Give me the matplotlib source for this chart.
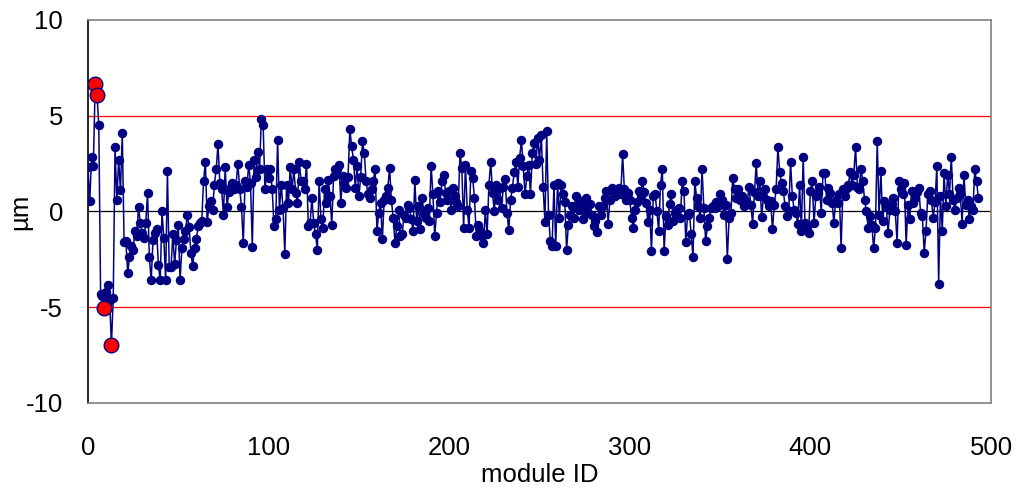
import numpy as np
import matplotlib
matplotlib.use("Agg")
import matplotlib.pyplot as plt

plt.rcParams['font.family'] = ['Liberation Sans', 'DejaVu Sans']
plt.rcParams['axes.unicode_minus'] = False

# module IDs and offsets (um)
module_id = list(range(0, 494))
offset = [
    2.3, 0.55, 2.85, 2.4, 6.65, 6.1, 4.5, -4.3, -4.4, -5.02,
    -4.2, -3.85, -4.6, -6.95, -4.5, 3.35, 0.6, 2.7, 1.1, 4.1,
    -1.6, -1.55, -3.2, -2.4, -1.8, -2.0, -1.0, -1.3, 0.25, -0.6,
    -1.1, -1.4, -0.6, 0.97, -2.4, -3.6, -1.5, -1.1, -0.9, -2.8,
    -3.6, 0.0, -1.4, -3.6, 2.1, -2.9, -2.9, -1.2, -2.76, -1.5,
    -0.68, -3.6, -1.9, -1.46, -1.0, -0.2, -0.8, -2.15, -2.85, -1.9,
    -1.46, -0.76, -0.6, -0.5, 1.6, 2.6, -0.55, 0.3, 0.54, 0.1,
    1.4, 2.2, 3.5, 1.5, 1.2, -0.16, 2.3, 0.26, 1.0, 1.3,
    1.5, 1.2, 1.4, 2.5, 1.2, 0.24, -1.67, 1.6, 1.3, 2.45,
    1.5, -1.84, 2.7, 1.8, 3.1, 2.2, 4.85, 4.5, 1.15, 2.2,
    1.75, 2.2, 1.15, -0.76, -0.4, 3.75, 0.1, 1.4, 0.2, -2.2,
    1.4, 0.45, 2.3, 1.15, 2.2, 0.97, 0.45, 2.6, 1.6, 1.6,
    1.15, 2.5, -0.76, -0.6, 0.7, -0.6, -1.2, -2.0, 1.6, -0.4,
    -0.85, 1.15, 0.45, 1.67, 0.8, -0.68, 1.84, 2.2, 2.2, 2.45,
    0.45, 1.84, 1.5, 1.23, 1.8, 4.3, 3.4, 2.7, 1.23, 2.36,
    0.8, 1.8, 3.66, 3.05, 1.58, 0.9, 0.7, 1.15, 1.6, 2.2,
    -1.0, -0.07, 0.45, -1.46, 0.6, 0.8, 1.23, 2.27, 0.6, -0.33,
    -1.63, -0.76, 0.1, -1.28, -1.2, -0.16, -0.33, 0.36, 0.2, -0.4,
    -1.0, 1.63, -0.5, 0.3, -0.94, 0.7, -0.07, -0.33, 0.2, -0.5,
    2.4, 0.9, -1.28, -0.07, 1.06, 0.5, 1.58, 1.93, 0.97, 0.6,
    1.06, 0.1, 1.23, 0.8, 0.5, 0.3, 3.05, 2.27, -0.85, 2.45,
    0.1, -0.85, 2.1, 1.75, 0.7, -1.28, -0.68, -1.0, -1.28, -1.67,
    0.07, -1.2, 1.4, 2.6, 0.94, 0.0, 1.4, 0.6, 1.23, 0.2,
    1.3, 1.7, -0.07, -0.98, 0.6, 1.23, 2.05, 2.6, 1.3, 2.8,
    3.75, 2.36, 0.9, 1.84, 2.45, 0.9, 3.05, 3.6, 2.5, 3.85,
    2.7, 4.0, 1.3, -0.55, 4.2, -0.16, -1.55, -1.8, 1.4, -1.8,
    1.5, -0.33, 1.4, 0.9, 0.5, -2.0, -0.68, -0.16, 0.3, -0.33,
    0.8, 0.3, 0.1, 0.54, -0.4, 0.3, 0.7, -0.07, 0.4, -0.16,
    -0.76, -0.5, -1.08, 0.28, -0.16, 0.3, 0.7, 1.06, -0.63, 0.6,
    1.23, 0.9, 0.8, 0.9, 1.23, 0.9, 3.0, 1.15, 0.6, 0.97,
    0.6, -0.33, -0.85, 0.1, 0.5, 1.06, 0.8, 1.6, 1.0, 0.45,
    -0.55, 0.1, -2.07, 0.8, 0.9, 0.0, -1.0, 1.4, 2.2, -2.07,
    -0.25, -0.68, 0.4, 0.9, -0.5, -0.07, 0.1, 0.2, -0.33, 1.58,
    1.06, -1.6, -0.16, -0.07, -1.2, -2.4, 1.6, 0.7, 0.3, -0.33,
    2.2, 0.2, -1.55, -0.76, -0.33, 0.2, 0.3, 0.2, 0.5, 0.28,
    0.9, 0.6, -0.16, 0.36, -2.46, -0.33, -0.07, 1.75, 1.15, 0.7,
    1.15, 0.6, 0.8, 0.28, 0.6, 0.45, 1.28, 0.36, -0.63, 1.0,
    2.53, 0.8, 1.58, -0.28, 0.8, 1.15, 0.6, 0.3, 0.54, -0.94,
    0.36, 1.15, 3.35, 2.05, 1.5, 1.06, 0.28, -0.25, 0.0, 2.6,
    0.8, 0.1, -0.07, -0.63, 1.4, -1.0, 2.85, -0.6, -0.85, -1.1,
    1.06, 1.58, -0.6, 0.8, 0.97, 1.3, -0.07, 2.0, 2.0, 0.6,
    1.23, 0.97, 0.45, -0.6, 0.6, 0.45, 0.9, -1.9, 1.15, 0.8,
    1.23, 1.4, 2.05, 1.4, 1.93, 3.35, 1.3, 1.15, 2.2, 1.58,
    0.6, 0.0, -0.85, -0.25, -0.68, -1.9, -0.85, 3.7, -0.16, 2.1,
    -0.5, 0.54, 0.3, -1.1, 0.1, 0.4, 0.7, 0.0, -1.63, 1.58,
    1.15, 0.9, 1.5, -1.77, 0.36, -0.4, 1.06, 0.45, 0.7, 1.0,
    1.23, -0.07, -0.25, -2.15, -1.0, 0.9, 1.06, 0.6, -0.33, 0.5,
    2.36, -3.8, 0.8, -1.0, 2.0, 0.28, 1.93, 0.9, 2.85, 0.6,
    0.1, 0.7, 1.23, 0.9, -0.63, 1.93, 0.36, 0.6, -0.4, 0.28,
    0.1, 2.2, 1.58, 0.7,
]
limit = 5.0

x = np.array(module_id)
y = np.array(offset)
out = np.abs(y) > limit

fig = plt.figure(figsize=(10.18, 4.96), dpi=100)
ax = fig.add_axes([0.0864, 0.1875, 0.8871, 0.7722])

ax.axhline(limit, color='red', lw=0.9, zorder=1)
ax.axhline(-limit, color='red', lw=0.9, zorder=1)
ax.axhline(0, color='black', lw=0.9, zorder=1)

ax.plot(x, y, '-o', color='#000080', lw=1.1, ms=5.8, mec='#000080', mfc='#000080', zorder=3)
ax.plot(x[out], y[out], 'o', ms=10.5, mfc='red', mec='#000080', mew=1.0, zorder=4)

ax.set_xlim(0, 500)
ax.set_ylim(-10, 10)
ax.set_xticks([0, 100, 200, 300, 400, 500])
ax.set_yticks([-10, -5, 0, 5, 10])
ax.tick_params(axis='both', length=0, labelsize=18.5)
ax.tick_params(axis='x', pad=24)
ax.tick_params(axis='y', pad=18)
for s in ax.spines.values():
    s.set_color('#808080')
    s.set_linewidth(1.2)
ax.spines['left'].set_color('black')

ax.set_xlabel('module ID', fontsize=18.5, labelpad=2)
ax.set_ylabel('µm', fontsize=18.5)
ax.yaxis.set_label_coords(-0.062, 0.5)

fig.savefig('out.png', dpi=100)
